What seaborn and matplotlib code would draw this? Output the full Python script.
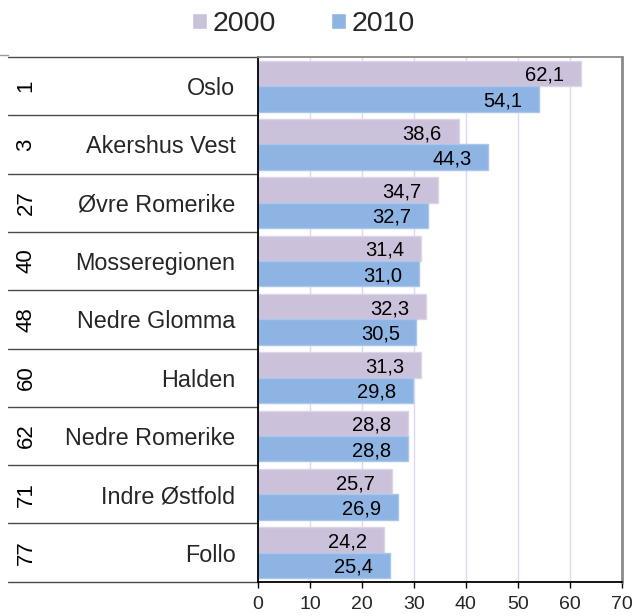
import matplotlib
matplotlib.use("Agg")
import matplotlib.pyplot as plt
import seaborn as sns
import pandas as pd

# Data
years = ["2000", "2010"]
regions = ["Oslo", "Akershus Vest", "Øvre Romerike", "Mosseregionen", "Nedre Glomma",
           "Halden", "Nedre Romerike", "Indre Østfold", "Follo"]
ranks = ["1", "3", "27", "40", "48", "60", "62", "71", "77"]
v2000 = [62.1, 38.6, 34.7, 31.4, 32.3, 31.3, 28.8, 25.7, 24.2]
v2010 = [54.1, 44.3, 32.7, 31.0, 30.5, 29.8, 28.8, 26.9, 25.4]
xticks = [0, 10, 20, 30, 40, 50, 60, 70]

colors = {"2000": "#CCC1DA", "2010": "#8EB4E3"}
edges = {"2000": "#DCD5E6", "2010": "#A9C6EC"}

sns.set_style("white")
plt.rcParams["font.family"] = ["Liberation Sans", "DejaVu Sans"]

df = pd.DataFrame({
    "region": regions * 2,
    "value": v2000 + v2010,
    "year": [years[0]] * len(regions) + [years[1]] * len(regions),
})

fig = plt.figure(figsize=(6.34, 6.16), dpi=100)
ax = fig.add_axes([258 / 634, 1 - 581.7 / 616, (621.7 - 258) / 634, (581.7 - 57) / 616])

sns.barplot(data=df, y="region", x="value", hue="year", order=regions, hue_order=years,
            palette=colors, orient="h", width=0.87, gap=0, ax=ax, saturation=1,
            linewidth=1)

# bar outlines and value labels
series = {"2000": v2000, "2010": v2010}
for cont, yr in zip(ax.containers, years):
    for bar, val in zip(cont, series[yr]):
        bar.set_edgecolor(edges[yr])
        bar.set_linewidth(1)
        yc = bar.get_y() + bar.get_height() / 2
        ax.annotate(f"{val:.1f}".replace(".", ","), (val, yc), xytext=(-12, 0),
                    textcoords="offset points", ha="right", va="center_baseline",
                    fontsize=14.5, color="black")

ax.set_xlim(0, 70)
ax.set_ylim(len(regions) - 0.5, -0.5)
ax.set_xticks(xticks)
ax.set_xticklabels([str(t) for t in xticks])
ax.set_xlabel("")
ax.set_ylabel("")

ax.grid(axis="x", color="#DCD8F2", linewidth=1)
ax.grid(axis="y", visible=False)
ax.set_axisbelow(True)

ax.tick_params(axis="x", direction="out", length=4.5, width=1, color="black",
               labelsize=14, pad=6, bottom=True)
ax.tick_params(axis="y", length=0, labelsize=16.8, pad=16.2)

for s in ("left", "bottom"):
    ax.spines[s].set_color("black")
    ax.spines[s].set_linewidth(1.3)
ax.spines["top"].set_color("#8A8A8A")
ax.spines["top"].set_linewidth(1.3)
ax.spines["right"].set_color("#8A8A8A")
ax.spines["right"].set_linewidth(2)

# two-level category axis: separators and rank numbers
x_left = (8 - 258) / 363.7
for k in range(len(regions) + 1):
    ax.plot([x_left, 0], [k - 0.5, k - 0.5], transform=ax.get_yaxis_transform(),
            color="#4A4A4A", linewidth=1, clip_on=False)
ax.plot([(0 - 258) / 363.7, x_left], [-0.54, -0.54], transform=ax.get_yaxis_transform(),
        color="#9A9A9A", linewidth=1, clip_on=False)
for k, r in enumerate(ranks):
    ax.text((26 - 258) / 363.7, k, r, transform=ax.get_yaxis_transform(), rotation=90,
            ha="center", va="center", fontsize=16, color="black")

handles, labels = ax.get_legend_handles_labels()
if ax.get_legend() is not None:
    ax.get_legend().remove()
fig.legend(handles, labels, loc="center", bbox_to_anchor=(303.4 / 634, 1 - 24 / 616),
           ncol=2, frameon=False, fontsize=20.5, handlelength=0.53, handleheight=0.5,
           handletextpad=0.21, columnspacing=1.9, borderaxespad=0, borderpad=0)

fig.savefig("out.png", dpi=100)
